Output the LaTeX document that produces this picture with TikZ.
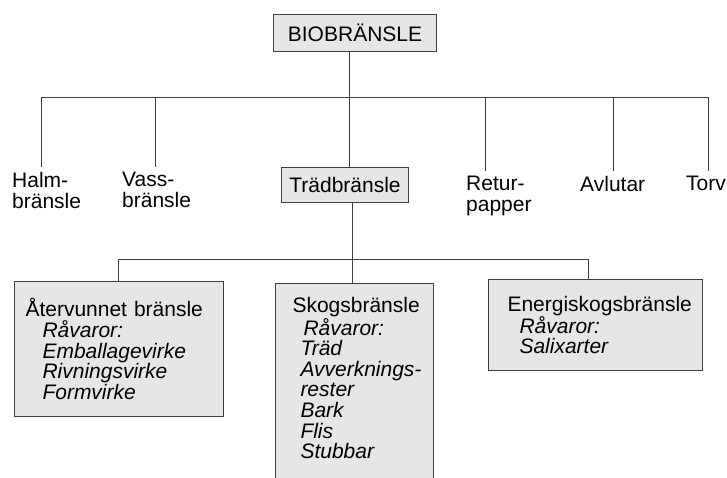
\documentclass[tikz,border=0pt]{standalone}
\usepackage{fontspec}
\setmainfont{Liberation Sans}
\definecolor{boxfill}{HTML}{E6E6E6}
\definecolor{linegray}{HTML}{404040}
\tikzset{
  box/.style={draw=linegray, fill=boxfill, line width=1pt},
  leaf/.style={anchor=north west, align=left, inner xsep=0pt, inner ysep=5pt},
  group/.style={box, anchor=north west, align=left, inner ysep=0pt},
  link/.style={draw=linegray, line width=1pt},
}
\newcommand{\ind}[1]{\hspace*{#1pt}}

\begin{document}
\begin{tikzpicture}[x=1pt, y=-1pt, font=\fontsize{21}{20.6}\selectfont]
    \useasboundingbox (0,0) rectangle (727,477);
    % top
    \node (bio) [box, anchor=north west, minimum width=163pt, minimum height=37pt, inner sep=0pt] at (273,14) {BIOBRÄNSLE};
    % second row
    \node (halm) [leaf] at (12,167) {Halm-\\bränsle};
    \node (vass) [leaf] at (122,167) {Vass-\\bränsle};
    \node (trad) [box, anchor=north west, minimum width=127pt, minimum height=35pt, inner sep=0pt] at (281,167) {Trädbränsle};
    \node (retur) [leaf] at (466,171) {Retur-\\papper};
    \node (avlutar) [leaf] at (580,171) {Avlutar};
    \node (torv) [leaf] at (686,171) {Torv};
    % third row
    \node (atervunnet) [group, text width=187pt, inner xsep=11pt, minimum height=135pt] at (14,281)
        {Återvunnet bränsle\\\ind{17}\textit{Råvaror:}\\\ind{17}\textit{Emballagevirke}\\\ind{17}\textit{Rivningsvirke}\\\ind{17}\textit{Formvirke}};
    \node (skog) [group, text width=140pt, inner xsep=9pt, inner ysep=14pt] at (275,283)
        {\ind{8}Skogsbränsle\\\ind{19}\textit{Råvaror:}\\\ind{16}\textit{Träd}\\\ind{16}\textit{Avverknings-}\\\ind{16}\textit{rester}\\\ind{16}\textit{Bark}\\\ind{16}\textit{Flis}\\\ind{16}\textit{Stubbar}\rule[-30pt]{0pt}{30pt}};
    \node (energi) [group, text width=176pt, inner xsep=19pt, minimum height=91pt] at (488,279)
        {Energiskogsbränsle\\\ind{12}\textit{Råvaror:}\\\ind{12}\textit{Salixarter}};
    % upper tree
    \coordinate (stem1) at (349,97);
    \coordinate (bus1w) at (41,97);
    \coordinate (bus1e) at (708,97);
    \coordinate (vassdrop) at (155,97);
    \coordinate (returdrop) at (485,97);
    \coordinate (avlutardrop) at (613,97);
    \draw [link] (stem1 |- bio.south) -- (stem1 |- trad.north);
    \draw [link] (bus1w) -- (bus1e);
    \draw [link] (bus1w) -- (bus1w |- halm.north);
    \draw [link] (vassdrop) -- (vassdrop |- vass.north);
    \draw [link] (returdrop) -- (returdrop |- retur.north);
    \draw [link] (avlutardrop) -- (avlutardrop |- avlutar.north);
    \draw [link] (bus1e) -- (bus1e |- torv.north);
    % lower tree
    \coordinate (stem2) at (352,259);
    \coordinate (bus2w) at (118,259);
    \coordinate (bus2e) at (588,259);
    \draw [link] (stem2 |- trad.south) -- (stem2 |- skog.north);
    \draw [link] (bus2w) -- (bus2e);
    \draw [link] (bus2w) -- (bus2w |- atervunnet.north);
    \draw [link] (bus2e) -- (bus2e |- energi.north);
\end{tikzpicture}
\end{document}
